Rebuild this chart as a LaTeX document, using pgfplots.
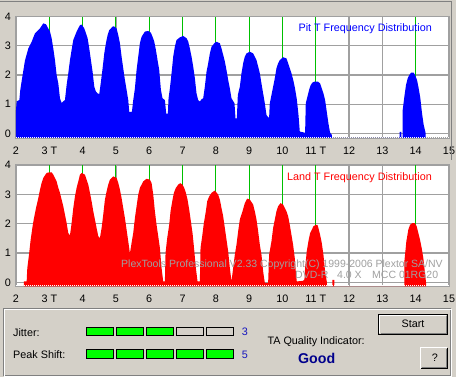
\documentclass[border=0pt]{standalone}
\usepackage{pgfplots}
\pgfplotsset{compat=1.18}
\usepackage{fontspec}
\setmainfont{Liberation Sans}
\definecolor{winbg}{RGB}{212,208,200}
\definecolor{gridgrey}{RGB}{160,160,160}
\definecolor{plexgreen}{RGB}{0,192,0}
\definecolor{pitblue}{RGB}{0,0,255}
\definecolor{landred}{RGB}{255,0,0}
\definecolor{wmgrey}{RGB}{160,160,160}
\definecolor{valblue}{RGB}{20,20,190}
\definecolor{goodblue}{RGB}{0,0,140}
\definecolor{barg}{RGB}{0,255,0}
\definecolor{shadow}{RGB}{128,128,128}
\newcommand{\uifont}{\fontsize{10.8bp}{13bp}\selectfont}
\newcommand{\wmfont}{\fontsize{10.5bp}{13bp}\selectfont}
\pgfplotsset{plex/.style={
  scale only axis, width=433bp,
  xmin=2, xmax=15, ymax=4,
  xtick={2,...,15}, xticklabels={2,3 T,4,5,6,7,8,9,10,11 T,12,13,14,15},
  ytick={0,1,2,3,4}, yticklabels={0,1,2,3,4},
  extra x ticks={3,4,5,6,7,8,9,10,11,14}, extra x tick labels={},
  extra x tick style={grid=major, major tick length=0pt, major grid style={draw=plexgreen, line width=1bp}},
  grid=major, major grid style={draw=gridgrey, line width=1.2bp},
  axis line style={draw=gridgrey, line width=1.2bp},
  major tick length=0pt, tick style={draw=none},
  axis background/.style={fill=white},
  tick label style={font=\uifont, inner sep=0pt},
  xticklabel style={anchor=north, yshift=-8.4bp},
  yticklabel style={anchor=east, xshift=-5bp},
}}
\begin{document}
\begin{tikzpicture}
\fill[winbg] (0,0) rectangle (456bp,377bp);
% ---------------- Pit ----------------
\begin{axis}[plex, at={(16bp,239bp)}, anchor=south west, height=121.3bp, ymin=-0.16]
\addplot[draw=none, fill=pitblue] coordinates {
(2.0,-0.16) (2.0,0.8) (2.02,1.1) (2.1,1.14) (2.13,1.5) (2.19,1.94) (2.27,2.5) (2.37,2.91)
(2.47,3.14) (2.57,3.43) (2.72,3.6) (2.82,3.77) (2.9,3.74) (3.02,3.49) (3.07,3.26) (3.12,2.91)
(3.17,2.51) (3.22,2.0) (3.27,1.71) (3.32,1.2) (3.37,1.04) (3.42,1.1) (3.47,1.14) (3.52,1.66)
(3.57,2.06) (3.62,2.51) (3.67,2.86) (3.72,3.2) (3.82,3.49) (3.92,3.71) (3.97,3.73) (4.05,3.6)
(4.1,3.43) (4.15,3.26) (4.2,2.91) (4.25,2.51) (4.3,2.11) (4.35,1.6) (4.4,1.43) (4.45,1.37)
(4.5,1.35) (4.55,1.77) (4.6,2.23) (4.65,2.74) (4.7,3.09) (4.75,3.37) (4.8,3.54) (4.9,3.66)
(4.94,3.67) (5.02,3.6) (5.07,3.37) (5.12,3.09) (5.17,2.63) (5.22,2.23) (5.27,1.83) (5.32,1.49)
(5.37,1.14) (5.4,0.74) (5.48,0.74) (5.52,1.14) (5.57,1.54) (5.62,2.17) (5.67,2.63) (5.72,3.09)
(5.77,3.31) (5.87,3.49) (5.97,3.51) (6.05,3.45) (6.1,3.31) (6.15,3.15) (6.2,2.86) (6.25,2.51)
(6.3,2.17) (6.35,1.49) (6.4,1.2) (6.47,1.14) (6.51,0.68) (6.56,0.68) (6.58,1.2) (6.62,1.54)
(6.67,2.06) (6.72,2.63) (6.77,2.97) (6.82,3.2) (6.92,3.29) (7.02,3.34) (7.12,3.26) (7.17,3.15)
(7.22,2.91) (7.27,2.63) (7.32,2.29) (7.37,1.89) (7.42,1.37) (7.47,1.14) (7.52,1.09) (7.57,1.17)
(7.62,1.2) (7.67,1.6) (7.72,2.11) (7.77,2.4) (7.82,2.74) (7.87,2.97) (7.97,3.11) (8.02,3.14)
(8.12,3.09) (8.17,2.91) (8.22,2.69) (8.27,2.46) (8.32,2.17) (8.37,1.83) (8.42,1.54) (8.47,1.2)
(8.56,1.03) (8.59,0.51) (8.63,0.51) (8.66,1.31) (8.72,1.6) (8.77,2.06) (8.82,2.4) (8.87,2.63)
(8.92,2.74) (9.02,2.8) (9.12,2.74) (9.17,2.63) (9.22,2.51) (9.27,2.29) (9.32,2.06) (9.37,1.71)
(9.42,1.37) (9.47,1.03) (9.52,0.63) (9.57,0.55) (9.6,0.55) (9.62,1.03) (9.67,1.31) (9.72,1.6)
(9.77,1.89) (9.82,2.23) (9.87,2.4) (9.92,2.51) (10.02,2.61) (10.12,2.57) (10.17,2.4) (10.22,2.23)
(10.27,2.06) (10.33,1.8) (10.38,1.52) (10.43,1.17) (10.48,0.65) (10.52,0.06) (10.68,0.02)
(10.7,1.03) (10.75,1.26) (10.8,1.49) (10.85,1.66) (10.9,1.74) (10.95,1.77) (11.07,1.77)
(11.13,1.71) (11.18,1.54) (11.23,1.37) (11.28,1.14) (11.33,0.74) (11.38,0.34) (11.43,0.02)
(11.48,-0.05) (11.48,-0.16)
(13.52,-0.16) (13.52,0.05) (13.57,0.05) (13.57,-0.16)
(13.61,-0.16) (13.61,0.8) (13.66,1.26) (13.71,1.66) (13.76,1.89) (13.81,2.0) (13.86,2.08)
(13.94,2.08) (13.99,1.97) (14.04,1.83) (14.09,1.54) (14.14,1.2) (14.19,0.69) (14.24,0.29)
(14.3,0.0) (14.3,-0.16)
} -- cycle;
\addplot[white, line width=1.2bp, dash pattern=on 1bp off 1bp] coordinates {(2,-0.135) (15,-0.135)};
\end{axis}
% ---------------- Land ----------------
\begin{axis}[plex, at={(16bp,90.6bp)}, anchor=south west, height=121.4bp, ymin=-0.14]
\addplot[draw=none, fill=landred] coordinates {
(2.24,-0.14) (2.24,0.03) (2.32,0.03) (2.34,0.49) (2.39,0.94) (2.44,1.45) (2.49,1.85) (2.54,2.19)
(2.6,2.53) (2.67,2.87) (2.72,3.16) (2.77,3.39) (2.82,3.56) (2.92,3.73) (3.0,3.75) (3.07,3.75)
(3.12,3.67) (3.22,3.44) (3.27,3.22) (3.32,3.05) (3.37,2.82) (3.42,2.59) (3.47,2.31) (3.52,2.02)
(3.57,1.68) (3.62,1.6) (3.67,2.02) (3.72,2.53) (3.77,2.93) (3.82,3.22) (3.87,3.44) (3.92,3.67)
(3.97,3.73) (4.07,3.67) (4.12,3.5) (4.17,3.33) (4.22,3.05) (4.27,2.76) (4.32,2.42) (4.37,2.14)
(4.42,1.85) (4.47,1.57) (4.52,1.51) (4.57,1.85) (4.62,2.31) (4.67,2.82) (4.72,3.1) (4.77,3.33)
(4.82,3.5) (4.92,3.61) (5.02,3.56) (5.07,3.39) (5.12,3.16) (5.17,2.87) (5.22,2.53) (5.27,2.19)
(5.32,1.79) (5.37,1.4) (5.42,0.99) (5.47,1.34) (5.52,1.68) (5.57,2.19) (5.62,2.59) (5.67,2.99)
(5.72,3.22) (5.82,3.44) (5.92,3.53) (6.02,3.5) (6.07,3.39) (6.12,3.0) (6.17,2.42) (6.22,1.96)
(6.27,1.57) (6.32,1.17) (6.37,0.49) (6.42,0.03) (6.47,0.03) (6.49,1.0) (6.54,1.51) (6.6,1.96)
(6.64,2.42) (6.7,2.82) (6.74,3.05) (6.8,3.22) (6.87,3.33) (6.93,3.38) (7.0,3.33) (7.05,3.22)
(7.1,3.05) (7.15,2.82) (7.2,2.48) (7.25,2.08) (7.3,1.68) (7.35,1.11) (7.4,0.49) (7.45,0.03)
(7.52,0.03) (7.54,1.17) (7.59,1.57) (7.64,2.02) (7.7,2.42) (7.74,2.76) (7.8,2.93) (7.87,3.05)
(7.97,3.13) (8.07,2.99) (8.12,2.82) (8.17,2.53) (8.22,2.25) (8.27,1.85) (8.32,1.45) (8.37,1.06)
(8.42,0.49) (8.47,0.03) (8.52,0.49) (8.57,0.94) (8.62,1.28) (8.67,1.74) (8.72,2.14) (8.8,2.42)
(8.87,2.7) (8.94,2.85) (9.02,2.82) (9.12,2.65) (9.17,2.42) (9.22,2.14) (9.27,1.74) (9.32,1.28)
(9.37,0.94) (9.42,0.37) (9.47,-0.02) (9.57,-0.02) (9.6,0.94) (9.67,1.4) (9.72,1.85) (9.77,2.14)
(9.82,2.42) (9.87,2.59) (9.94,2.7) (10.02,2.65) (10.12,2.42) (10.17,2.25) (10.22,1.96) (10.27,1.62)
(10.32,1.28) (10.37,0.82) (10.4,0.37) (10.43,0.03) (10.62,0.05) (10.66,0.1) (10.68,0.49)
(10.73,1.06) (10.78,1.4) (10.83,1.68) (10.88,1.79) (10.93,1.91) (11.0,1.96) (11.05,1.96)
(11.08,1.85) (11.13,1.62) (11.18,1.34) (11.23,0.94) (11.28,0.37) (11.33,0.03) (11.34,-0.14)
(11.5,-0.14) (11.5,0.08) (11.56,0.08) (11.56,-0.14)
(13.66,-0.14) (13.66,0.71) (13.72,1.4) (13.78,1.8) (13.83,1.96) (13.9,2.02) (13.97,2.02)
(14.03,1.91) (14.08,1.68) (14.13,1.45) (14.18,1.17) (14.23,0.82) (14.28,0.31) (14.31,0.0)
(14.31,-0.14)
} -- cycle;
\addplot[white, line width=1.2bp, dash pattern=on 1bp off 1bp] coordinates {(2,-0.12) (15,-0.12)};
\end{axis}
% ---------------- window decoration ----------------
\begin{scope}[x=1bp, y=1bp, font=\uifont]
\draw[shadow, line width=1bp] (0,375) -- (452,375);
\draw[shadow, line width=1bp] (451.5,375) -- (451.5,217);
% titles
\node[anchor=base east, inner sep=0pt, text=pitblue] at (432,345.3) {Pit T Frequency Distribution};
\node[anchor=base east, inner sep=0pt, text=landred] at (432,197) {Land T Frequency Distribution};
% watermark
\node[anchor=base east, inner sep=0pt, text=wmgrey, font=\wmfont] at (443,109.7) {PlexTools Professional V2.33 Copyright(C) 1999-2006 Plextor SA/NV};
\node[anchor=base west, inner sep=0pt, text=wmgrey, font=\wmfont] at (295,98.3) {DVD-R};
\node[anchor=base west, inner sep=0pt, text=wmgrey, font=\wmfont] at (337,98.3) {4.0 X};
\node[anchor=base west, inner sep=0pt, text=wmgrey, font=\wmfont] at (372,98.3) {MCC 01RG20};
% bottom panel
\draw[shadow, line width=1bp] (3.5,68.5) rectangle (450.5,1.5);
\draw[white, line width=1bp] (4.5,67.5) rectangle (451.5,0.5);
\node[anchor=base west, inner sep=0pt] at (13,40.3) {Jitter:};
\node[anchor=base west, inner sep=0pt] at (13,18.7) {Peak Shift:};
\foreach \a/\b/\f in {86/113/barg,116/143/barg,146/173/barg,176/203/winbg,206/233/winbg}
  {\draw[black, line width=1bp, fill=\f] (\a,49.7) rectangle (\b,41.3);}
\foreach \a/\b in {86/113,116/143,146/173,176/203,206/233}
  {\draw[black, line width=1bp, fill=barg] (\a,27) rectangle (\b,18.7);}
\node[anchor=base west, inner sep=0pt, text=valblue] at (241.7,41.3) {3};
\node[anchor=base west, inner sep=0pt, text=valblue] at (241.7,18.7) {5};
\node[anchor=base, inner sep=0pt] at (316.1,32.7) {TA Quality Indicator:};
\node[anchor=base, inner sep=0pt, text=goodblue, font=\fontsize{14.2bp}{16bp}\selectfont\bfseries] at (316.7,13.7) {Good};
% Start button
\draw[black, line width=1bp] (378.8,62.5) rectangle (447.2,42.5);
\draw[white, line width=1bp] (379.8,43.5) -- (379.8,61.5) -- (446.2,61.5);
\draw[shadow, line width=1bp] (380.8,43.5) -- (446.2,43.5) -- (446.2,60.5);
\node[anchor=base, inner sep=0pt] at (413,49.3) {Start};
% ? button
\draw[white, line width=1bp] (420.5,8.2) -- (420.5,29.2) -- (447.2,29.2);
\draw[black, line width=1bp] (420.5,8.2) -- (447.2,8.2) -- (447.2,29.2);
\draw[shadow, line width=1bp] (421.5,9.2) -- (446.2,9.2) -- (446.2,28.2);
\node[anchor=base, inner sep=0pt] at (435,15.3) {?};
\end{scope}
\pgfresetboundingbox
\path[use as bounding box] (0,0) rectangle (456bp,377bp);
\end{tikzpicture}
\end{document}
